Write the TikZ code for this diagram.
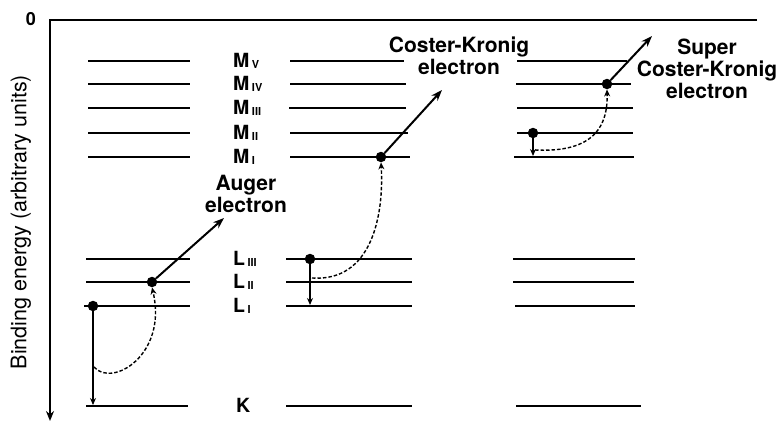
\documentclass[tikz,border=0pt]{standalone}
\usepackage{fontspec}
\setsansfont{TeX Gyre Heros}
\usetikzlibrary{arrows.meta}

\newcommand{\shellname}[2]{#1\hspace{2.5pt}\raisebox{-0.5pt}{\fontsize{11}{11}\selectfont #2}}

\begin{document}
\begin{tikzpicture}[x=1pt, y=-1pt,
  axis/.style={line width=2.8pt, -{Stealth[length=10pt,width=8pt]}},
  level/.style={line width=2.3pt},
  edot/.style={circle, fill, inner sep=0pt, minimum size=10.5pt},
  emit/.style={-{Stealth[length=11pt,width=8pt]}, line width=2pt},
  drop/.style={-{Stealth[length=7pt,width=6pt]}, line width=1.5pt},
  hop/.style={dash pattern=on 3.5pt off 2pt, line width=1.4pt, -{Stealth[length=7pt,width=6pt]}},
  lbl/.style={font=\sffamily\bfseries\fontsize{21}{22}\selectfont, align=center, inner sep=0pt},
  shell/.style={font=\sffamily\bfseries\fontsize{19.5}{20}\selectfont, inner sep=0pt, anchor=base west},
  >=Stealth
]
\useasboundingbox (0,0) rectangle (781,420);

% axes
\coordinate (orig) at (50,20);
\coordinate (xend) at (757,20);
\coordinate (ybot) at (50,421);
\draw[axis] (xend) -- (orig) -- (ybot);
\node[font=\sffamily\bfseries\fontsize{18}{18}\selectfont, inner sep=0pt] (zero) at (31,19.5) {0};
\node[font=\sffamily\fontsize{21.5}{21.5}\selectfont, rotate=90, inner sep=0pt] (ylab) at (21,222)
  {Binding energy (arbitrary units)};

% energy levels, three columns
\draw[level] (88,61) -- (190,61) (88,84) -- (190,84) (88,108) -- (190,108)
  (88,133) -- (190,133) (88,157) -- (190,157)
  (86,259) -- (190,259) (86,282) -- (190,282) (84,306) -- (190,306)
  (86,406) -- (188,406);
\draw[level] (290,61) -- (404,61) (290,84) -- (406,84) (289,108) -- (406,108)
  (290,133) -- (408,133) (290,157) -- (410,157)
  (286,259) -- (412,259) (286,282) -- (412,282) (286,306) -- (412,306)
  (286,406) -- (412,406);
\draw[level] (517,61) -- (627,61) (516,84) -- (631,84) (517,108) -- (633,108)
  (517,133) -- (633,133) (514,157) -- (634,157)
  (513,259) -- (635,259) (513,282) -- (634,282) (515,306) -- (635,306)
  (516,406) -- (641,406);

% shell labels
\node[shell] (mv)   at (233,67.5)  {\shellname{M}{V}};
\node[shell] (miv)  at (233,90.5)  {\shellname{M}{IV}};
\node[shell] (miii) at (233,114.5) {\shellname{M}{III}};
\node[shell] (mii)  at (233,139.5) {\shellname{M}{II}};
\node[shell] (mi)   at (233,163.5) {\shellname{M}{I}};
\node[shell] (liii) at (233,265.5) {\shellname{L}{III}};
\node[shell] (lii)  at (233,288.5) {\shellname{L}{II}};
\node[shell] (li)   at (233,312.5) {\shellname{L}{I}};
\node[shell] (k)    at (236,412.5) {K};

% electrons
\node[edot] (aug1) at (93,306) {};
\node[edot] (aug2) at (152,282) {};
\node[edot] (ck1)  at (310,259) {};
\node[edot] (ck2)  at (381,157) {};
\node[edot] (sck1) at (533,133) {};
\node[edot] (sck2) at (607,84) {};

% free ends
\coordinate (augk)  at (93,405);
\coordinate (augout) at (224,218);
\coordinate (augsrc) at (94,367);
\coordinate (ckl)   at (310,305);
\coordinate (ckout) at (442,90);
\coordinate (cksrc) at (312,278);
\coordinate (sckm)  at (533,156);
\coordinate (sckout) at (652,36);
\coordinate (scksrc) at (535,150);

% Auger
\draw[drop] (aug1) -- (augk);
\draw[hop] (augsrc) .. controls (112,388) and (168,355) .. (aug2.south);
\draw[emit] (aug2) -- (augout);
\node[lbl] (auglab) at (246,194) {Auger\\electron};

% Coster-Kronig
\draw[drop] (ck1) -- (ckl);
\draw[hop] (cksrc) .. controls (372,282) and (384,215) .. (ck2.south);
\draw[emit] (ck2) -- (ckout);
\node[lbl] (cklab) at (459,56) {Coster-Kronig\\electron};

% super Coster-Kronig
\draw[drop] (sck1) -- (sckm);
\draw[hop] (scksrc) .. controls (595,153) and (608,125) .. (sck2.south);
\draw[emit] (sck2) -- (sckout);
\node[lbl] (scklab) at (707,69) {Super\\Coster-Kronig\\electron};
\end{tikzpicture}
\end{document}
